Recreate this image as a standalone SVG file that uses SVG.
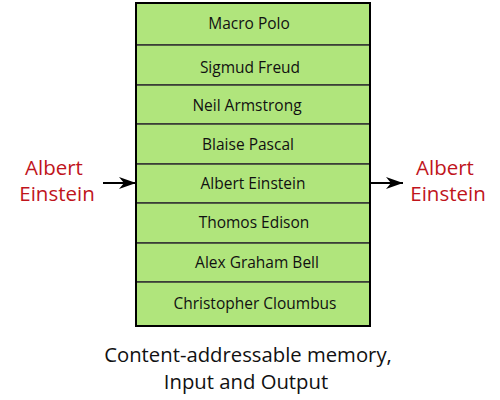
<svg xmlns="http://www.w3.org/2000/svg" width="500" height="400" viewBox="0 0 500 400">
<defs>
<style>
.cell{fill:#b0e57c;stroke:#333;stroke-width:1.5}
.t{font-family:"Open Sans","DejaVu Sans",sans-serif;font-size:15.5px;fill:#111;text-anchor:middle}
.red{font-family:"Open Sans","DejaVu Sans",sans-serif;font-size:20.5px;fill:#c0141c;text-anchor:middle}
.cap{font-family:"Open Sans","DejaVu Sans",sans-serif;font-size:20.3px;fill:#111;text-anchor:middle}
.ln{stroke:#000;stroke-width:2;fill:none}
</style>
<marker id="ah" markerWidth="17" markerHeight="12" refX="17" refY="6" orient="auto" markerUnits="userSpaceOnUse" viewBox="0 0 17 12">
<path d="M0,0 L17,6 L0,12 L5,6 Z" fill="#000"/>
</marker>
</defs>
<g id="memory">
<g id="row1"><rect class="cell" x="136" y="3" width="234" height="42"/><text class="t" x="249" y="29">Macro Polo</text></g>
<g id="row2"><rect class="cell" x="136" y="45" width="234" height="40"/><text class="t" x="250" y="73">Sigmud Freud</text></g>
<g id="row3"><rect class="cell" x="136" y="85" width="234" height="39"/><text class="t" x="247" y="111">Neil Armstrong</text></g>
<g id="row4"><rect class="cell" x="136" y="124" width="234" height="40"/><text class="t" x="248" y="150">Blaise Pascal</text></g>
<g id="row5"><rect class="cell" x="136" y="164" width="234" height="39"/><text class="t" x="253" y="189">Albert Einstein</text></g>
<g id="row6"><rect class="cell" x="136" y="203" width="234" height="40"/><text class="t" x="254" y="228">Thomos Edison</text></g>
<g id="row7"><rect class="cell" x="136" y="243" width="234" height="39"/><text class="t" x="257" y="268">Alex Graham Bell</text></g>
<g id="row8"><rect class="cell" x="136" y="282" width="234" height="44"/><text class="t" x="255" y="309">Christopher Cloumbus</text></g>
<rect x="136" y="3" width="234" height="323" fill="none" stroke="#000" stroke-width="2"/>
</g>
<g id="input"><text class="red" x="54" y="175">Albert</text><text class="red" x="57" y="201">Einstein</text></g>
<g id="output"><text class="red" x="445" y="175">Albert</text><text class="red" x="448" y="201">Einstein</text></g>
<g id="connectors">
<line class="ln" x1="103" y1="183" x2="136" y2="183" marker-end="url(#ah)"/>
<line class="ln" x1="370" y1="183" x2="403" y2="183" marker-end="url(#ah)"/>
</g>
<g id="caption"><text class="cap" x="248" y="362">Content-addressable memory,</text><text class="cap" x="246" y="389">Input and Output</text></g>
</svg>
